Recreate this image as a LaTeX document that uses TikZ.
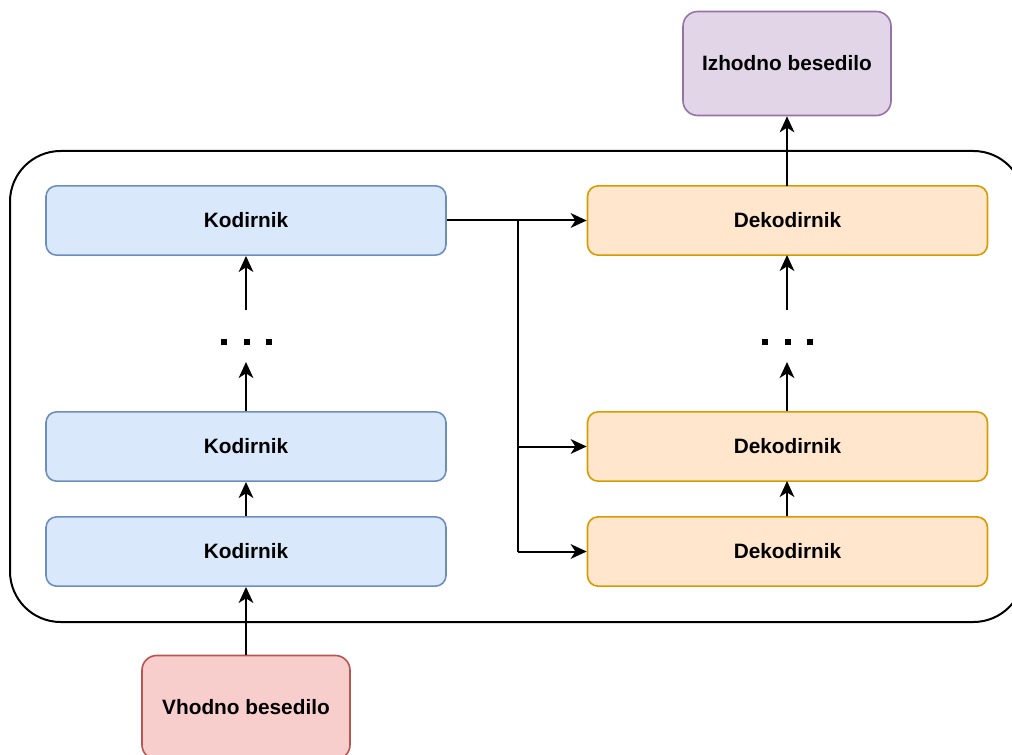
\documentclass[tikz,border=0pt]{standalone}
\usepackage{fontspec}
\setmainfont{Liberation Sans}
\usetikzlibrary{arrows.meta}
\definecolor{encfill}{HTML}{DAE8FC}
\definecolor{encline}{HTML}{6C8EBF}
\definecolor{decfill}{HTML}{FFE6CC}
\definecolor{decline}{HTML}{D79B00}
\definecolor{outfill}{HTML}{E1D5E7}
\definecolor{outline}{HTML}{9673A6}
\definecolor{infill}{HTML}{F8CECC}
\definecolor{inline}{HTML}{B85450}
\tikzset{
  blk/.style={draw, line width=1.2pt, rounded corners=8pt, inner sep=0pt,
    font=\fontsize{15.6}{18}\selectfont\bfseries, align=center},
  encbox/.style={blk, fill=encfill, draw=encline, minimum width=300pt, minimum height=52pt},
  decbox/.style={blk, fill=decfill, draw=decline, minimum width=300pt, minimum height=52pt},
  txtbox/.style={blk, minimum width=156pt, minimum height=78pt, rounded corners=11pt},
  conn/.style={line width=1.5pt, -{Stealth[length=12pt,width=11pt,inset=3.5pt]}},
  wire/.style={line width=1.5pt},
  dot/.style={fill=black, minimum size=5pt, inner sep=0pt}
}
\begin{document}
\begin{tikzpicture}[x=0.75pt, y=-0.75pt]
\useasboundingbox (0,0) rectangle (1012,755);
\clip (0,0) rectangle (1012,755);
% outer frame of the model
\draw[line width=1.5pt, rounded corners=38pt] (10,151) rectangle (1024,622);
% encoder stack
\node[encbox] (e3) at (246,220.5) {Kodirnik};
\node[encbox] (e2) at (246,446.5) {Kodirnik};
\node[encbox] (e1) at (246,551.5) {Kodirnik};
% decoder stack
\node[decbox] (d3) at (787.5,220.5) {Dekodirnik};
\node[decbox] (d2) at (787.5,446.5) {Dekodirnik};
\node[decbox] (d1) at (787.5,551.5) {Dekodirnik};
% input and output texts
\node[txtbox, fill=outfill, draw=outline] (out) at (787,63.5) {Izhodno besedilo};
\node[txtbox, fill=infill, draw=inline] (in) at (246,707.5) {Vhodno besedilo};
% ellipses between layers
\node[dot] (ed1) at (224,342) {};
\node[dot] (ed2) at (247,342) {};
\node[dot] (ed3) at (269,342) {};
\node[dot] (dd1) at (765,342) {};
\node[dot] (dd2) at (788,342) {};
\node[dot] (dd3) at (810,342) {};
\coordinate (ea) at (246,310);
\coordinate (eb) at (246,362);
\coordinate (da) at (787,310);
\coordinate (db) at (787,362);
% encoder arrows
\draw[conn] (in.north) -- (e1.south);
\draw[conn] (e1.north) -- (e2.south);
\draw[conn] (e2.north) -- (eb);
\draw[conn] (ea) -- (e3.south);
% decoder arrows
\draw[conn] (d1.north -| 787,0) -- (787,481);
\draw[conn] (d2.north -| 787,0) -- (db);
\draw[conn] (da) -- (787,255);
\draw[conn] (787,186) -- (out.south -| 787,0);
% encoder output to every decoder
\coordinate (split) at (518,220.5);
\draw[conn] (e3.east) -- (d3.west);
\draw[wire] (split) -- (518,551.5);
\draw[conn] (518,446.5) -- (d2.west);
\draw[conn] (518,551.5) -- (d1.west);
\end{tikzpicture}
\end{document}
